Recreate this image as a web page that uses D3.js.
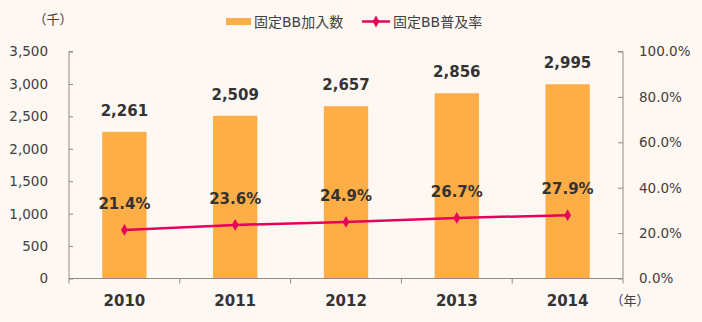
<!DOCTYPE html>
<html>
<head>
<meta charset="utf-8">
<script src="https://cdn.jsdelivr.net/npm/d3@7"></script>
<style>
  html, body { margin: 0; padding: 0; background: #FEF7F2; }
  svg { display: block; font-family: "DejaVu Sans", "Noto Sans CJK JP", sans-serif; }
</style>
</head>
<body>
<svg id="chart" width="702" height="322"></svg>
<script>
// 固定ブロードバンド加入数（千）と普及率
const years = ["2010", "2011", "2012", "2013", "2014"];
const subscribers = [2261, 2509, 2657, 2856, 2995];
const penetration = [21.4, 23.6, 24.9, 26.7, 27.9];
const leftTicks = [0, 500, 1000, 1500, 2000, 2500, 3000, 3500];
const rightTicks = [0, 20, 40, 60, 80, 100];
const seriesNames = ["固定BB加入数", "固定BB普及率"];

const barColor = "#FFAE47";
const lineColor = "#E6005C";
const axisColor = "#8C8C8C";
const textColor = "#404040";
const labelColor = "#333333";

const svg = d3.select("#chart");
const m = { left: 69, right: 623, top: 51.5, bottom: 278.5 };

const x = d3.scaleBand().domain(years).range([m.left, m.right]).paddingInner(0).paddingOuter(0);
const yL = d3.scaleLinear().domain([0, 3500]).range([m.bottom, m.top]);
const yR = d3.scaleLinear().domain([0, 100]).range([m.bottom, m.top]);
const barW = x.bandwidth() * 0.4;

// bars
svg.append("g").selectAll("rect").data(years).join("rect")
  .attr("x", d => x(d) + (x.bandwidth() - barW) / 2)
  .attr("y", (d, i) => yL(subscribers[i]))
  .attr("width", barW)
  .attr("height", (d, i) => yL(0) - yL(subscribers[i]))
  .attr("fill", barColor);

// left axis
const gL = svg.append("g").attr("transform", `translate(${m.left},0)`)
  .call(d3.axisRight(yL).tickValues(leftTicks).tickSize(4).tickFormat(""));
gL.selectAll("path, line").attr("stroke", axisColor);
gL.select(".domain").attr("d", `M4,${m.top}H0V${m.bottom}`);
svg.append("g").selectAll("text").data(leftTicks).join("text")
  .attr("x", 48).attr("y", d => yL(d)).attr("dy", "0.36em")
  .attr("text-anchor", "end").attr("font-size", 13.5).attr("fill", textColor)
  .text(d3.format(","));

// right axis
const gR = svg.append("g").attr("transform", `translate(${m.right},0)`)
  .call(d3.axisLeft(yR).tickValues(rightTicks).tickSize(5).tickFormat(""));
gR.selectAll("path, line").attr("stroke", axisColor);
gR.select(".domain").attr("d", `M-5,${m.top}H0V${m.bottom}`);
svg.append("g").selectAll("text").data(rightTicks).join("text")
  .attr("x", 639).attr("y", d => yR(d)).attr("dy", "0.36em")
  .attr("text-anchor", "start").attr("font-size", 13.5).attr("fill", textColor)
  .text(d => d.toFixed(1) + "%");

// bottom axis
const gB = svg.append("g").attr("transform", `translate(0,${m.bottom})`)
  .call(d3.axisBottom(x).tickSize(0).tickFormat(""));
gB.select(".domain").attr("stroke", axisColor).attr("d", `M${m.left},0H${m.right}`);
svg.append("g").selectAll("line").data(d3.range(years.length + 1)).join("line")
  .attr("x1", i => m.left + i * x.bandwidth()).attr("x2", i => m.left + i * x.bandwidth())
  .attr("y1", m.bottom).attr("y2", m.bottom + 5)
  .attr("stroke", axisColor);
svg.append("g").selectAll("text").data(years).join("text")
  .attr("x", d => x(d) + x.bandwidth() / 2).attr("y", 305.5)
  .attr("text-anchor", "middle").attr("font-size", 15).attr("font-weight", "bold")
  .attr("fill", labelColor).text(d => d);

// unit labels
svg.append("text").attr("x", 53).attr("y", 24).attr("text-anchor", "middle")
  .attr("font-size", 13).attr("fill", textColor).text("（千）");
svg.append("text").attr("x", 630).attr("y", 305).attr("text-anchor", "middle")
  .attr("font-size", 13).attr("fill", textColor).text("（年）");

// bar value labels
svg.append("g").selectAll("text").data(years).join("text")
  .attr("x", d => x(d) + x.bandwidth() / 2)
  .attr("y", (d, i) => yL(subscribers[i]) - 16)
  .attr("text-anchor", "middle").attr("font-size", 15).attr("font-weight", "bold")
  .attr("fill", labelColor).text((d, i) => d3.format(",")(subscribers[i]));

// penetration line
const cx = d => x(d) + x.bandwidth() / 2;
svg.append("path")
  .datum(years)
  .attr("d", d3.line().x(cx).y((d, i) => yR(penetration[i])))
  .attr("fill", "none").attr("stroke", lineColor).attr("stroke-width", 2.5);
const diamond = d3.symbol().type(d3.symbolDiamond).size(40);
svg.append("g").selectAll("path").data(years).join("path")
  .attr("d", diamond)
  .attr("transform", (d, i) => `translate(${cx(d)},${yR(penetration[i])})`)
  .attr("fill", lineColor);
svg.append("g").selectAll("text").data(years).join("text")
  .attr("x", cx)
  .attr("y", (d, i) => yR(penetration[i]) - 21)
  .attr("text-anchor", "middle").attr("font-size", 15).attr("font-weight", "bold")
  .attr("fill", labelColor).text((d, i) => penetration[i].toFixed(1) + "%");

// legend
const lg = svg.append("g");
lg.append("rect").attr("x", 226).attr("y", 18).attr("width", 25).attr("height", 7).attr("fill", barColor);
lg.append("text").attr("x", 254).attr("y", 21.5).attr("dy", "0.36em")
  .attr("font-size", 14).attr("fill", textColor).text(seriesNames[0]);
lg.append("line").attr("x1", 362).attr("x2", 390).attr("y1", 21.5).attr("y2", 21.5)
  .attr("stroke", lineColor).attr("stroke-width", 2.5);
lg.append("path").attr("d", diamond).attr("transform", "translate(376,21.5)").attr("fill", lineColor);
lg.append("text").attr("x", 393).attr("y", 21.5).attr("dy", "0.36em")
  .attr("font-size", 14).attr("fill", textColor).text(seriesNames[1]);
</script>
</body>
</html>
